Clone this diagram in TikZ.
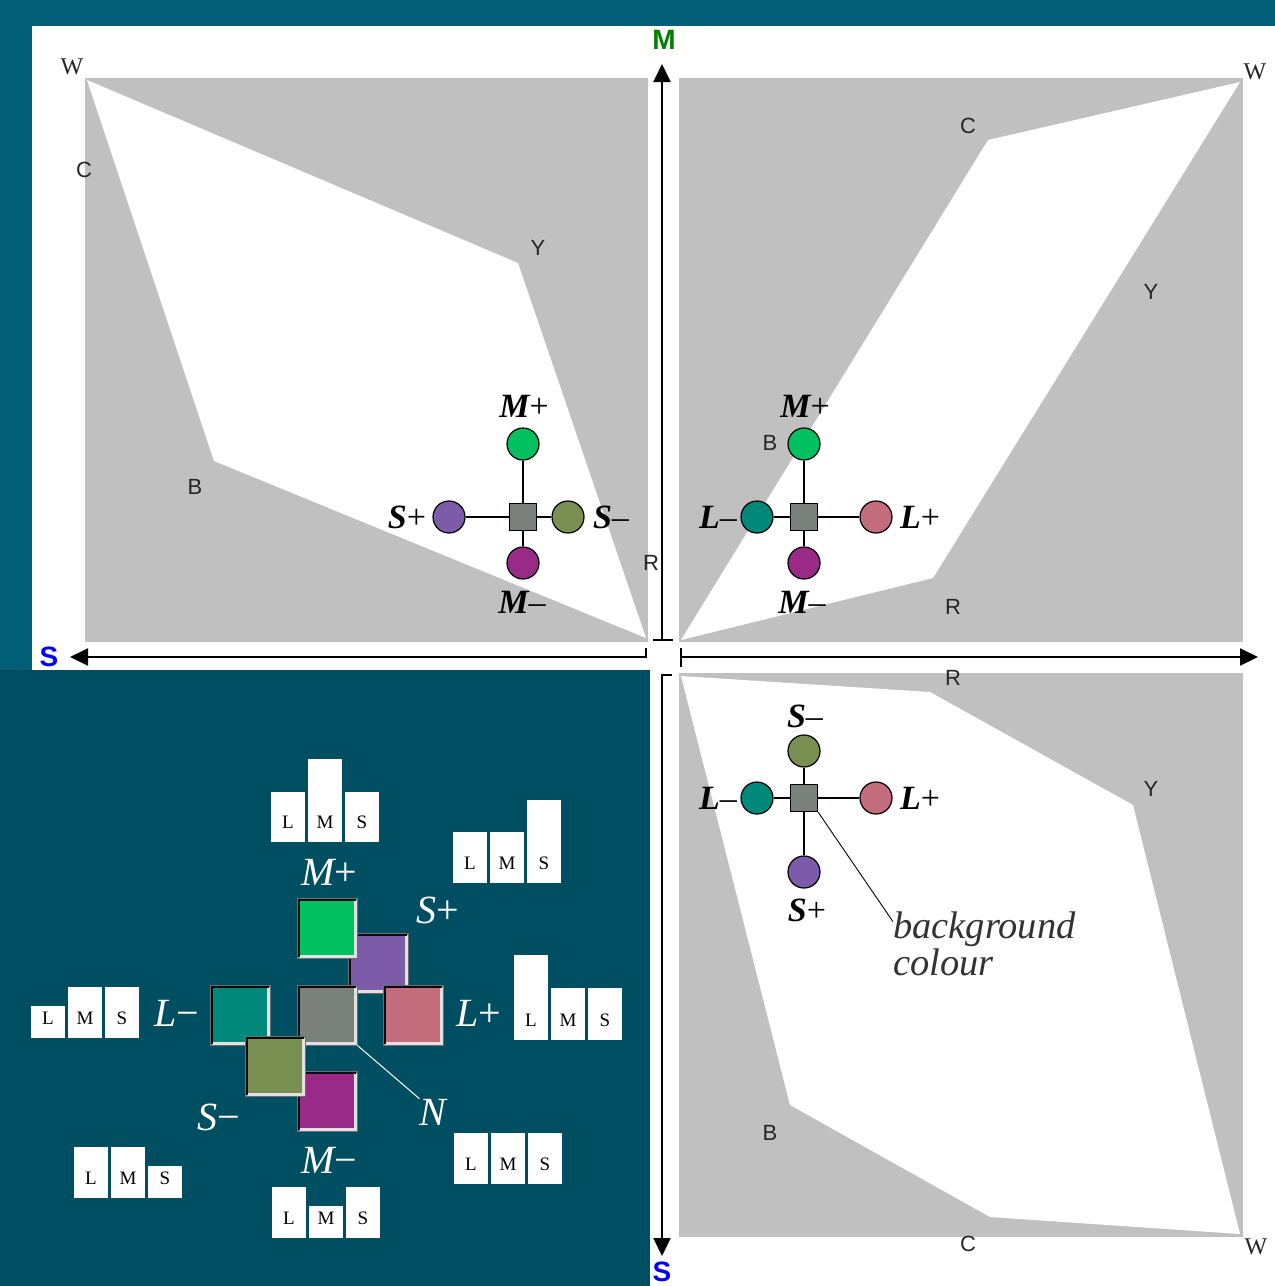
\documentclass[tikz,border=0pt]{standalone}
\usepackage{fontspec}
\setmainfont{Liberation Serif}
\setsansfont{Liberation Sans}
\usetikzlibrary{arrows.meta,calc}
\definecolor{band}{RGB}{2,94,118}
\definecolor{panel}{RGB}{0,78,98}
\definecolor{quad}{RGB}{192,192,192}
\definecolor{cMp}{RGB}{0,192,96}
\definecolor{cSp}{RGB}{124,92,168}
\definecolor{cSm}{RGB}{122,144,82}
\definecolor{cMm}{RGB}{154,42,136}
\definecolor{cLm}{RGB}{0,137,122}
\definecolor{cLp}{RGB}{194,108,124}
\definecolor{cN}{RGB}{122,128,122}
\definecolor{axM}{RGB}{0,128,0}
\definecolor{axS}{RGB}{0,0,255}
\definecolor{bevdark}{RGB}{10,10,10}
\definecolor{bevlight}{RGB}{225,225,225}
\definecolor{bevout}{RGB}{110,110,110}
\newcommand\clet[1]{{\bfseries\itshape #1}}
\newcommand\wlet[1]{{\itshape #1}}
\newcommand\lmsbars[6]{%
  \node[lmsbar,minimum height=#4pt,anchor=south west] (#1L) at (#2,#3) {};
  \node[lmsbar,minimum height=#5pt,anchor=south west] (#1M) at (#2+37,#3) {};
  \node[lmsbar,minimum height=#6pt,anchor=south west] (#1S) at (#2+74,#3) {};
  \node[lmslet] (#1l) at (#2+17,#3-20) {L};
  \node[lmslet] (#1m) at (#2+54,#3-20) {M};
  \node[lmslet] (#1s) at (#2+91,#3-20) {S};
}
\newcommand\bevsq[4]{%
  \node[bevbox,fill=#4,anchor=north west] (#1) at (#2,#3) {};
  \draw[line width=3pt,bevlight] ($(#1.north east)+(-1.5,1.5)$) |- ($(#1.south west)+(1.5,-1.5)$);
  \draw[line width=3pt,bevdark] ($(#1.south west)+(1.5,-1.5)$) |- ($(#1.north east)+(-1.5,1.5)$);
  \draw[line width=1pt,bevout] (#1.south west) rectangle (#1.north east);
}
\begin{document}
\begin{tikzpicture}[x=1pt,y=-1pt,
  dot/.style={circle,draw=black,line width=1.2pt,minimum size=32pt,inner sep=0pt},
  sq/.style={rectangle,draw=black,line width=1.2pt,fill=cN,minimum size=27pt,inner sep=0pt},
  conn/.style={line width=1.5pt},
  clab/.style={font=\fontsize{34}{34}\selectfont,inner sep=0pt},
  wlab/.style={font=\fontsize{40}{40}\selectfont,inner sep=0pt,text=white},
  qlab/.style={font=\sffamily\fontsize{22}{22}\selectfont,inner sep=0pt,text={black!85}},
  wq/.style={font=\fontsize{24}{24}\selectfont,inner sep=0pt,text={black!85}},
  axisline/.style={line width=2pt,-{Triangle[length=18pt,width=17pt]}},
  tickline/.style={line width=2pt},
  axlab/.style={font=\sffamily\bfseries\fontsize{28}{28}\selectfont,inner sep=0pt},
  lmsbar/.style={rectangle,fill=white,minimum width=34pt,inner sep=0pt},
  lmslet/.style={font=\fontsize{19}{19}\selectfont,inner sep=0pt},
  bevbox/.style={rectangle,minimum size=60pt,inner sep=0pt},
  bgtext/.style={font=\itshape\fontsize{38.5}{38.5}\selectfont,inner sep=0pt,anchor=base west,text={black!80}}
]
\useasboundingbox (0,0) rectangle (1275,1286);
% backgrounds
\fill[band] (0,0) rectangle (1275,26);
\fill[band] (0,26) rectangle (32,670);
\fill[white] (32,26) rectangle (1275,670);
\fill[panel] (0,670) rectangle (650,1286);
\fill[white] (650,670) rectangle (1275,1286);
% quadrants
\fill[quad] (85,78) rectangle (648,642);
\fill[white] (87,80) -- (518,263) -- (646,638) -- (214,461) -- cycle;
\fill[quad] (679,78) rectangle (1243,642);
\fill[white] (681,640) -- (988,140) -- (1240,82) -- (933,578) -- cycle;
\fill[quad] (679,673) rectangle (1243,1237);
\fill[white] (681,676) -- (930,692) -- (1133,805) -- (1240,1234) -- (990,1217) -- (790,1105) -- cycle;
% quadrant labels
\node[wq] (tlW) at (72,67) {W};
\node[qlab] (tlC) at (84,170) {C};
\node[qlab] (tlY) at (538,248) {Y};
\node[qlab] (tlB) at (195,487) {B};
\node[qlab] (tlR) at (651,563) {R};
\node[qlab] (trC) at (968,126) {C};
\node[wq] (trW) at (1255,72) {W};
\node[qlab] (trY) at (1151,292) {Y};
\node[qlab] (trB) at (770,443) {B};
\node[qlab] (trR) at (953,607) {R};
\node[qlab] (brR) at (953,678) {R};
\node[qlab] (brY) at (1151,789) {Y};
\node[qlab] (brB) at (770,1133) {B};
\node[qlab] (brC) at (968,1244) {C};
\node[wq] (brW) at (1256,1247) {W};
% axes
\coordinate (hlO) at (646,657); \coordinate (hlE) at (70,657);
\coordinate (hrO) at (681,657); \coordinate (hrE) at (1258,657);
\coordinate (vtO) at (662,640); \coordinate (vtE) at (662,64);
\coordinate (vbO) at (662,675); \coordinate (vbE) at (662,1256);
\draw[axisline] (hlO) -- (hlE);
\draw[axisline] (hrO) -- (hrE);
\draw[axisline] (vtO) -- (vtE);
\draw[axisline] (vbO) -- (vbE);
\draw[tickline] ($(hlO)+(0,-9)$) -- ($(hlO)+(0,1)$);
\draw[tickline] ($(hrO)+(0,-9)$) -- ($(hrO)+(0,10)$);
\draw[tickline] ($(vtO)+(-9,0)$) -- ($(vtO)+(11,0)$);
\draw[tickline] ($(vbO)+(-1,0)$) -- ($(vbO)+(10,0)$);
\node[axlab,text=axM] (axM) at (664,40) {M};
\node[axlab,text=axS] (axS1) at (49,657) {S};
\node[axlab,text=axS] (axS2) at (662,1272) {S};
% diagram 1 (top left)
\node[sq] (q1) at (523,517) {};
\node[dot,fill=cMp] (q1mp) at (523,444) {};
\node[dot,fill=cSp] (q1sp) at (449,517) {};
\node[dot,fill=cSm] (q1sm) at (568,517) {};
\node[dot,fill=cMm] (q1mm) at (523,563) {};
\foreach \t in {q1mp,q1sp,q1sm,q1mm} \draw[conn] (q1) -- (\t);
\node[clab] (l1mp) at (524,406) {\clet{M}+};
\node[clab] (l1sp) at (407,517) {\clet{S}+};
\node[clab] (l1sm) at (611,517) {\clet{S}–};
\node[clab] (l1mm) at (522,602) {\clet{M}–};
% diagram 2 (top right)
\node[sq] (q2) at (804,517) {};
\node[dot,fill=cMp] (q2mp) at (804,444) {};
\node[dot,fill=cLm] (q2lm) at (757,517) {};
\node[dot,fill=cLp] (q2lp) at (876,517) {};
\node[dot,fill=cMm] (q2mm) at (804,563) {};
\foreach \t in {q2mp,q2lm,q2lp,q2mm} \draw[conn] (q2) -- (\t);
\node[clab] (l2mp) at (805,406) {\clet{M}+};
\node[clab] (l2lm) at (718,517) {\clet{L}–};
\node[clab] (l2lp) at (920,517) {\clet{L}+};
\node[clab] (l2mm) at (802,602) {\clet{M}–};
% diagram 3 (bottom right)
\node[sq] (q3) at (804,798) {};
\node[dot,fill=cSm] (q3sm) at (804,751) {};
\node[dot,fill=cLm] (q3lm) at (757,798) {};
\node[dot,fill=cLp] (q3lp) at (876,798) {};
\node[dot,fill=cSp] (q3sp) at (804,872) {};
\foreach \t in {q3sm,q3lm,q3lp,q3sp} \draw[conn] (q3) -- (\t);
\node[clab] (l3sm) at (805,716) {\clet{S}–};
\node[clab] (l3lm) at (718,798) {\clet{L}–};
\node[clab] (l3lp) at (920,798) {\clet{L}+};
\node[clab] (l3sp) at (807,910) {\clet{S}+};
\node[bgtext] (bg1) at (893,938) {background};
\node[bgtext] (bg2) at (893,975) {colour};
\draw[line width=0.9pt] (q3.south east) -- ($(bg1.north west)!0.3!(bg1.south west)$);
% lower-left panel: coloured squares
\bevsq{bsp}{348}{933}{cSp}
\bevsq{bmp}{297}{898}{cMp}
\bevsq{blm}{210}{985}{cLm}
\bevsq{bn}{297}{985}{cN}
\bevsq{blp}{383}{985}{cLp}
\bevsq{bmm}{297}{1071}{cMm}
\bevsq{bsm}{245}{1036}{cSm}
\node[wlab] (wmp) at (329,872) {\wlet{M}+};
\node[wlab] (wsp) at (438,910) {\wlet{S}+};
\node[wlab] (wlm) at (177,1013) {\wlet{L}−};
\node[wlab] (wlp) at (479,1013) {\wlet{L}+};
\node[wlab] (wsm) at (219,1117) {\wlet{S}−};
\node[wlab] (wmm) at (329,1160) {\wlet{M}−};
\node[wlab] (wn) at (433,1112) {\wlet{N}};
\draw[white,line width=1pt] (bn.south east) -- (wn.north west);
% LMS bar charts
\lmsbars{cmp}{271}{842}{50}{83}{50}
\lmsbars{csp}{453}{883}{51}{51}{83}
\lmsbars{clm}{31}{1038}{32}{51}{51}
\lmsbars{clp}{514}{1040}{85}{52}{52}
\lmsbars{csm}{74}{1198}{51}{51}{32}
\lmsbars{cmm}{272}{1238}{51}{32}{51}
\lmsbars{cn}{454}{1184}{51}{51}{51}
\end{tikzpicture}
\end{document}
